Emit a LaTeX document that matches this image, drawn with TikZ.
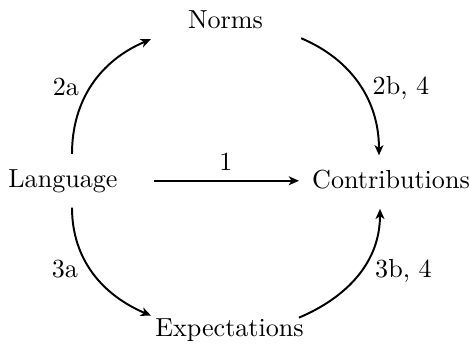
\documentclass[tikz,border=0pt]{standalone}
\usetikzlibrary{arrows.meta,calc}
\begin{document}
\begin{tikzpicture}[x=0.383pt,y=-0.383pt,
  lbl/.style={anchor=base,inner sep=0pt},
  term/.style={anchor=base,inner sep=3.33pt},
  arr/.style={line width=0.75pt,-{Stealth[length=3.9pt,width=3.4pt,inset=1.1pt]}}]
\useasboundingbox (0,0) rectangle (470,351);
\node[term] (lang) at (63,187) {Language};
\node[term] (norms) at (225.5,28) {Norms};
\node[term] (contrib) at (391,188) {Contributions};
\node[term] (expect) at (229.5,337) {Expectations};
\node[lbl] (l1) at (226,170) {1};
\node[lbl] (l2a) at (66,95) {2a};
\node[lbl] (l2b) at (401,94) {2b, 4};
\node[lbl] (l3a) at (65,278) {3a};
\node[lbl] (l3b) at (403.5,278) {3b, 4};
\draw[arr] ($(lang.east)+(27,0)$) -- ($(lang.east -| contrib.west)+(-4,0)$);
\draw[arr] ($(lang.north)+(9,-6)$) to[out=90,in=203] ($(norms.west)+(-28,20)$);
\draw[arr] ($(norms.east)+(29,19)$) to[out=-23,in=90] ($(contrib.north)+(-12,-5)$);
\draw[arr] ($(lang.south)+(9,6)$) to[out=-90,in=157] ($(expect.west)+(5,-15)$);
\draw[arr] ($(expect.east)+(-14,-13)$) to[out=23,in=-90] ($(contrib.south)+(-11,11)$);
\end{tikzpicture}
\end{document}
